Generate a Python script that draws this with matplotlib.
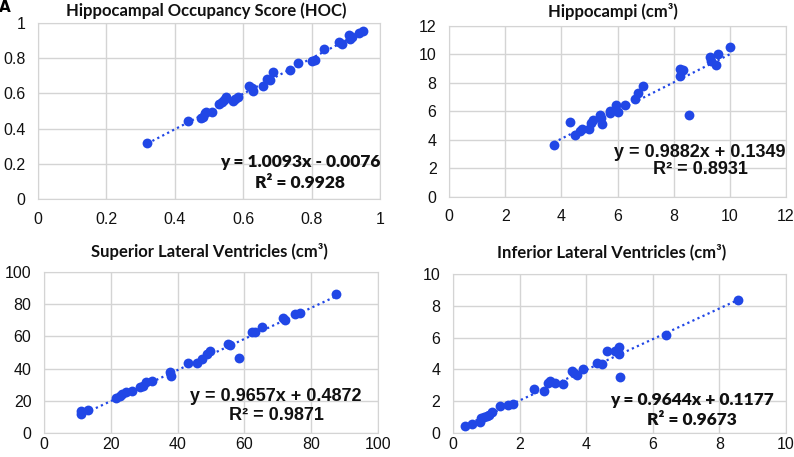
import numpy as np
import matplotlib
matplotlib.use("Agg")
import matplotlib.pyplot as plt

# panel A - Hippocampal Occupancy Score
hoc_x = [0.32, 0.44, 0.477, 0.481, 0.487, 0.491, 0.51, 0.53, 0.537, 0.549, 0.543,
         0.569, 0.576, 0.586, 0.617, 0.627, 0.63, 0.659, 0.669, 0.679, 0.688,
         0.737, 0.76, 0.80, 0.81, 0.837, 0.88, 0.888, 0.908, 0.912, 0.919, 0.939, 0.951]
hoc_y = [0.321, 0.442, 0.461, 0.467, 0.486, 0.495, 0.495, 0.539, 0.552, 0.580, 0.560,
         0.556, 0.571, 0.580, 0.641, 0.631, 0.614, 0.641, 0.681, 0.675, 0.722,
         0.732, 0.773, 0.783, 0.792, 0.851, 0.892, 0.883, 0.930, 0.911, 0.921, 0.945, 0.953]

# panel B - Hippocampi
hip_x = [3.73, 4.30, 4.50, 4.66, 4.75, 4.98, 5.04, 5.11, 5.37, 5.43, 5.45, 5.73, 5.73,
         5.93, 6.02, 6.26, 6.64, 6.74, 6.91, 8.22, 8.22, 8.34, 8.55, 9.29, 9.33,
         9.50, 9.59, 10.00]
hip_y = [3.68, 5.25, 4.38, 4.62, 4.80, 4.76, 5.16, 5.39, 5.72, 5.51, 5.11, 5.86, 6.05,
         6.49, 5.93, 6.45, 6.91, 7.31, 7.80, 8.98, 8.51, 8.91, 5.72, 9.84, 9.56,
         9.26, 10.0, 10.50]

# panel C - Superior lateral ventricles
slv_x = [11.0, 11.2, 13.2, 21.7, 22.7, 23.5, 24.5, 26.2, 28.7, 29.5, 30.4, 32.4, 37.7,
         37.9, 43.0, 45.7, 47.2, 48.7, 49.7, 55.2, 55.6, 58.4, 62.2, 63.2, 65.4,
         71.7, 72.2, 75.2, 76.5, 87.4]
slv_y = [12.0, 13.4, 14.4, 21.6, 23.1, 24.1, 25.2, 26.2, 28.5, 29.5, 31.5, 32.4, 37.7,
         35.7, 43.7, 43.3, 46.0, 49.1, 50.9, 55.1, 54.6, 46.8, 62.9, 62.5, 66.0,
         71.5, 70.1, 74.2, 74.8, 86.6]

# panel D - Inferior lateral ventricles
ilv_x = [0.37, 0.58, 0.82, 0.85, 0.93, 1.02, 1.08, 1.18, 1.40, 1.65, 1.80, 2.42, 2.73,
         2.84, 2.91, 3.06, 3.29, 3.58, 3.64, 3.71, 3.91, 4.33, 4.48, 4.63, 4.86,
         4.98, 4.98, 5.01, 6.39, 8.55]
ilv_y = [0.46, 0.59, 0.67, 0.94, 1.01, 1.05, 1.15, 1.32, 1.68, 1.78, 1.82, 2.79, 2.66,
         3.14, 3.29, 3.14, 3.10, 3.88, 3.77, 3.63, 4.05, 4.40, 4.36, 5.14, 5.18,
         5.39, 4.97, 3.52, 6.18, 8.34]

titles = ["Hippocampal Occupancy Score (HOC)", "Hippocampi (cm³)",
          "Superior Lateral Ventricles (cm³)", "Inferior Lateral Ventricles (cm³)"]
fits = [(1.0093, -0.0076), (0.9882, 0.1349), (0.9657, 0.4872), (0.9644, 0.1177)]
eqs = ["y = 1.0093x - 0.0076", "y = 0.9882x + 0.1349",
       "y = 0.9657x + 0.4872", "y = 0.9644x + 0.1177"]
r2s = ["R² = 0.9928", "R² = 0.8931", "R² = 0.9871", "R² = 0.9673"]
limits = [(1, 0.2), (12, 2), (100, 20), (10, 2)]

blue = "#2147e6"
W, H = 794, 457
fig = plt.figure(figsize=(W / 100, H / 100), dpi=100)

# axes boxes in pixels: left, top, right, bottom
boxes = [(38, 23, 380, 199), (449, 26, 786, 197), (44, 272, 378, 433), (453, 274, 786, 433)]
title_pos = [(206, 11), (613, 11), (209, 252), (612, 252)]
eq_pos = [(0.766, 0.21, 0.09), (0.745, 0.263, 0.158), (0.695, 0.224, 0.106), (0.718, 0.208, 0.082)]
eq_font = ["Lato", "Liberation Sans", "Liberation Sans", "Lato"]
eq_size = [12.5, 13, 13, 12.5]
xpad = [9, 9, 3, 3]

data = [(hoc_x, hoc_y), (hip_x, hip_y), (slv_x, slv_y), (ilv_x, ilv_y)]

for i, (xs, ys) in enumerate(data):
    l, t, r, b = boxes[i]
    ax = fig.add_axes([l / W, 1 - b / H, (r - l) / W, (b - t) / H])
    top, step = limits[i]
    ax.set_xlim(0, top)
    ax.set_ylim(0, top)
    ticks = np.arange(0, top + step / 2, step)
    labels = ["{:g}".format(round(v, 1)) for v in ticks]
    ax.set_xticks(ticks)
    ax.set_yticks(ticks)
    ax.set_xticklabels(labels)
    ax.set_yticklabels(labels)
    ax.tick_params(length=0, labelsize=11.5, colors="#111111")
    ax.tick_params(axis="x", pad=xpad[i])
    ax.tick_params(axis="y", pad=9)
    for lab in ax.get_xticklabels() + ax.get_yticklabels():
        lab.set_family("Liberation Sans")
    ax.grid(True, color="#d4d4d4", linewidth=1.0)
    ax.set_axisbelow(True)
    for s in ax.spines.values():
        s.set_color("#d4d4d4")

    ax.scatter(xs, ys, s=50, color=blue, zorder=3, linewidths=0)
    m, c = fits[i]
    lx = np.array([min(xs), max(xs)])
    ax.plot(lx, m * lx + c, color=blue, linestyle=(0, (1, 1.5)), linewidth=1.6, zorder=2)

    ex, ey1, ey2 = eq_pos[i]
    ax.text(ex, ey1, eqs[i], transform=ax.transAxes, ha="center", va="center",
            fontsize=eq_size[i], fontweight="heavy", family=eq_font[i], color="#111111")
    ax.text(ex, ey2, r2s[i], transform=ax.transAxes, ha="center", va="center",
            fontsize=eq_size[i], fontweight="heavy", family=eq_font[i], color="#111111")

    tx, ty = title_pos[i]
    fig.text(tx / W, 1 - ty / H, titles[i], ha="center", va="center",
             fontsize=12, fontweight="bold", family="Lato", color="#111111")

fig.text(5 / W, 1 - 8 / H, "A", ha="center", va="center", fontsize=11,
         fontweight="bold", color="black")

fig.savefig("out.png", dpi=100)
